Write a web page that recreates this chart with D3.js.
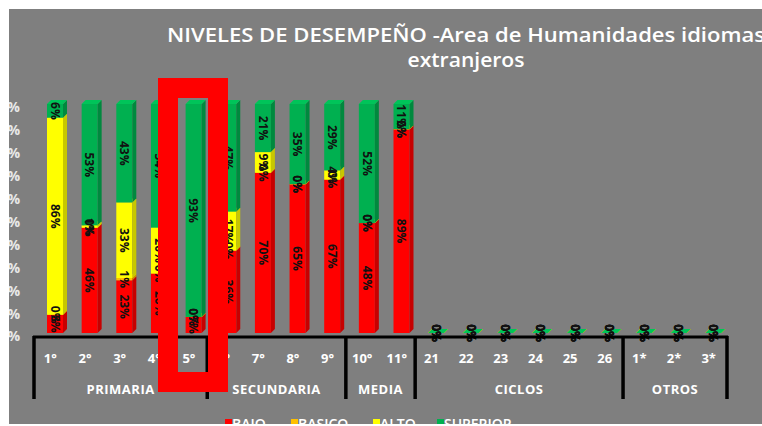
<!DOCTYPE html>
<html><head><meta charset="utf-8">
<script src="https://cdn.jsdelivr.net/npm/d3@7"></script>
<style>html,body{margin:0;padding:0;background:#fff;}svg{display:block;}</style>
</head><body>
<script>
const categories = ["1°","2°","3°","4°","5°","6°","7°","8°","9°","10°","11°","21","22","23","24","25","26","1*","2*","3*"];
const groupNames = ["PRIMARIA","SECUNDARIA","MEDIA","CICLOS","OTROS"];
const groupSizes = [5,4,2,6,3];
const seriesNames = ["BAJO","BASICO","ALTO","SUPERIOR"];
const seriesColors = ["#ff0000","#ffc000","#ffff00","#00b050"];
const bajo     = [8,46,23,26,7,36,70,65,67,48,89,0,0,0,0,0,0,0,0,0];
const basico   = [0,0,1,0,0,0,0,0,0,0,0,0,0,0,0,0,0,0,0,0];
const alto     = [86,1,33,20,0,17,9,0,4,0,0,0,0,0,0,0,0,0,0,0];
const superior = [6,53,43,54,93,47,21,35,29,52,11,0,0,0,0,0,0,0,0,0];
const yTicks = [0,10,20,30,40,50,60,70,80,90,100];
const titleLines = ["NIVELES DE DESEMPEÑO -Area de Humanidades idiomas","extranjeros"];

const W=762,H=426;
const svg=d3.select("body").append("svg").attr("width",W).attr("height",H);
svg.append("rect").attr("width",W).attr("height",H).attr("fill","#fff");
const panel={x:9,y:9,w:W-9,h:415};
svg.append("defs").append("clipPath").attr("id","pc").append("rect")
  .attr("x",panel.x).attr("y",panel.y).attr("width",panel.w).attr("height",panel.h);
const g=svg.append("g").attr("clip-path","url(#pc)");
g.append("rect").attr("x",panel.x).attr("y",panel.y).attr("width",panel.w).attr("height",panel.h).attr("fill","#7f7f7f");

// title
g.append("text").attr("x",466).attr("y",42).attr("text-anchor","middle")
  .attr("font-family","Open Sans").attr("font-size",20).attr("font-weight",600).attr("fill","#fff")
  .attr("textLength",598).attr("lengthAdjust","spacingAndGlyphs").text(titleLines[0]);
g.append("text").attr("x",466).attr("y",67).attr("text-anchor","middle")
  .attr("font-family","Open Sans").attr("font-size",20).attr("font-weight",600).attr("fill","#fff")
  .attr("textLength",117).attr("lengthAdjust","spacingAndGlyphs").text(titleLines[1]);

const x=d3.scaleBand().domain(categories).range([34,727]).padding(0);
const y=d3.scaleLinear().domain([0,100]).range([333,104]);

// y axis labels
const ax=g.append("g").attr("transform","translate(20,3.5)")
  .call(d3.axisLeft(y).tickValues(yTicks).tickFormat(d=>d+"%").tickSize(0).tickPadding(0));
ax.select(".domain").remove();
ax.selectAll("text").attr("font-family","Open Sans").attr("font-weight",700).attr("font-size",14).attr("fill","#e8e8e8");

// stacked data
const rows=categories.map((c,i)=>({cat:c,BAJO:bajo[i],BASICO:basico[i],ALTO:alto[i],SUPERIOR:superior[i]}));
const stack=d3.stack().keys(seriesNames)(rows);
const color=d3.scaleOrdinal().domain(seriesNames).range(seriesColors);
const off=13,bw=16,dep=4;
const bars=g.append("g");
stack.forEach(layer=>{
  const c=color(layer.key);
  layer.forEach(d=>{
    const x0=x(d.data.cat)+off, yb=y(d[0]), yt=y(d[1]);
    bars.append("rect").attr("x",x0).attr("y",yt).attr("width",bw).attr("height",Math.max(0,yb-yt)).attr("fill",c);
    bars.append("path").attr("d",`M${x0+bw},${yb}L${x0+bw+dep},${yb-dep}L${x0+bw+dep},${yt-dep}L${x0+bw},${yt}Z`)
      .attr("fill",d3.color(c).darker(0.7));
    bars.append("path").attr("d",`M${x0},${yt}L${x0+dep},${yt-dep}L${x0+bw+dep},${yt-dep}L${x0+bw},${yt}Z`)
      .attr("fill",d3.color(c).brighter(0.3));
  });
});
// value labels
const lab=g.append("g");
stack.forEach(layer=>{
  layer.forEach(d=>{
    const cx=x(d.data.cat)+off+bw/2, cy=(y(d[0])+y(d[1]))/2;
    lab.append("text").attr("transform",`translate(${cx},${cy}) rotate(90)`)
      .attr("text-anchor","middle").attr("dy","0.35em")
      .attr("font-family","Open Sans").attr("font-weight",700).attr("font-size",12).attr("fill","#111")
      .text((d[1]-d[0])+"%");
  });
});

// category axis with brackets
g.append("line").attr("x1",33).attr("x2",728).attr("y1",337).attr("y2",337).attr("stroke","#000").attr("stroke-width",3);
let idx=0;
const bounds=[x(categories[0])];
groupSizes.forEach(s=>{idx+=s; bounds.push(x(categories[idx-1])+x.bandwidth());});
bounds.forEach(b=>{
  g.append("line").attr("x1",b).attr("x2",b).attr("y1",336).attr("y2",399).attr("stroke","#000").attr("stroke-width",3.5);
});
categories.forEach(c=>{
  g.append("text").attr("x",x(c)+x.bandwidth()/2-1).attr("y",363).attr("text-anchor","middle")
    .attr("font-family","Open Sans").attr("font-weight",700).attr("font-size",13).attr("fill","#fff").text(c);
});
groupNames.forEach((n,i)=>{
  g.append("text").attr("x",(bounds[i]+bounds[i+1])/2).attr("y",394).attr("text-anchor","middle")
    .attr("font-family","Open Sans").attr("font-weight",700).attr("font-size",13).attr("letter-spacing",0.5)
    .attr("fill","#fff").text(n);
});

// legend
const legX=[225,291,373,437];
seriesNames.forEach((n,i)=>{
  g.append("rect").attr("x",legX[i]).attr("y",419).attr("width",7).attr("height",7).attr("fill",seriesColors[i]);
  g.append("text").attr("x",legX[i]+7).attr("y",429).attr("font-family","Open Sans").attr("font-weight",600)
    .attr("font-size",14).attr("fill","#fff").text(n);
});

// annotation rectangle
svg.append("rect").attr("x",168).attr("y",88).attr("width",50).attr("height",294)
  .attr("fill","none").attr("stroke","#ff0000").attr("stroke-width",20);
</script>
</body></html>
